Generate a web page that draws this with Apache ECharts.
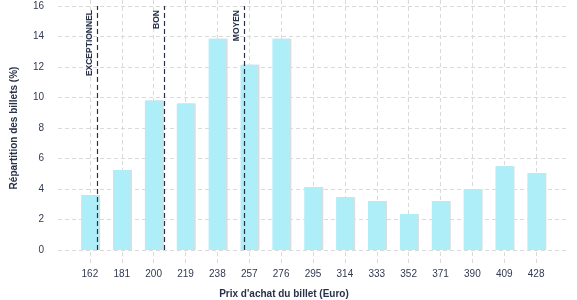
<!DOCTYPE html>
<html><head><meta charset="utf-8">
<script src="https://cdn.jsdelivr.net/npm/echarts@6/dist/echarts.min.js"></script>
<style>html,body{margin:0;padding:0;background:#fff}#c{width:577px;height:300px}</style>
</head><body><div id="c"></div>
<script>
const categories = ['162','181','200','219','238','257','276','295','314','333','352','371','390','409','428'];
const shares = [3.6, 5.25, 9.8, 9.6, 13.85, 12.15, 13.85, 4.13, 3.48, 3.21, 2.36, 3.21, 4.0, 5.5, 5.05];
const refNames = ['EXCEPTIONNEL', 'BON', 'MOYEN'];
const refPrices = [166.4, 206.5, 254];
const yTicks = [0, 2, 4, 6, 8, 10, 12, 14, 16];

const priceStart = 162, priceStep = 19;
const navy = '#27324a', txt = '#2f3a52', grid = '#dadada', bar = '#adeef8';

const chart = echarts.init(document.getElementById('c'), null, {renderer: 'canvas'});
const F = 'Liberation Sans, Arial, sans-serif';

chart.setOption({
  animation: false,
  grid: [
    {left: 58, right: 9, top: 0, bottom: 37},
    {left: 58, right: 9, top: 6, bottom: 50}
  ],
  xAxis: [
    {gridIndex: 0, type: 'value', min: -1, max: categories.length, interval: 1,
     axisLine: {show: false}, axisTick: {show: false}, axisLabel: {show: false},
     splitLine: {show: true, showMinLine: false, showMaxLine: false, lineStyle: {color: grid, type: [4, 3], width: 1}}},
    {gridIndex: 1, type: 'value', min: -1, max: categories.length, interval: 1,
     axisLine: {show: false}, axisTick: {show: false}, splitLine: {show: false},
     axisLabel: {color: txt, fontSize: 10, fontFamily: F, margin: 19,
       formatter: v => (v >= 0 && v < categories.length) ? categories[v] : ''}},
    {gridIndex: 1, type: 'value', show: false,
     min: priceStart - priceStep, max: priceStart + priceStep * categories.length,
     splitLine: {show: false}}
  ],
  yAxis: [
    {gridIndex: 0, type: 'value', min: 0, max: 1, show: false, splitLine: {show: false}},
    {gridIndex: 1, type: 'value', min: yTicks[0], max: yTicks[yTicks.length - 1], interval: 2,
     axisLine: {show: false}, axisTick: {show: false},
     axisLabel: {color: txt, fontSize: 10, fontFamily: F, margin: 14},
     splitLine: {show: true, lineStyle: {color: grid, type: [4, 3], width: 1}}}
  ],
  series: [
    {type: 'bar', xAxisIndex: 1, yAxisIndex: 1, barWidth: 17.5,
     data: shares.map((v, i) => [i, v]),
     itemStyle: {color: bar, shadowColor: '#dcdcdc', shadowOffsetX: 1.5, shadowOffsetY: 0, shadowBlur: 0}},
    {type: 'line', xAxisIndex: 2, yAxisIndex: 1, data: [], silent: true,
     markLine: {
       symbol: ['none', 'none'], silent: true,
       lineStyle: {color: navy, type: [5, 3], width: 1.2},
       label: {show: true, position: 'insideEndTop', color: navy, fontSize: 8.5, fontWeight: 'bold',
               fontFamily: F, distance: [4, 3], formatter: p => p.name},
       data: refPrices.map((p, i) => [
         {name: refNames[i], coord: [p, 0]},
         {coord: [p, 16]}
       ])
     }}
  ],
  graphic: [
    {type: 'text', x: 284, y: 294, style: {text: "Prix d'achat du billet (Euro)", fill: navy,
      font: 'bold 10px ' + F, textAlign: 'center', textVerticalAlign: 'middle'}},
    {type: 'text', x: 14, y: 128, rotation: Math.PI / 2, style: {text: 'Répartition des billets (%)', fill: navy,
      font: 'bold 10px ' + F, textAlign: 'center', textVerticalAlign: 'middle'}}
  ]
});
</script></body></html>
